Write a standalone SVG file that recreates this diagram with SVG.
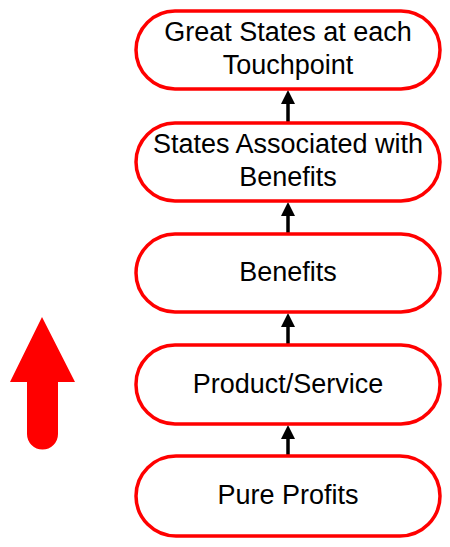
<svg xmlns="http://www.w3.org/2000/svg" width="450" height="547" viewBox="0 0 450 547">
<style>
.node rect{fill:#fff;stroke:#f00;stroke-width:3.5}
.node text{font-family:"Liberation Sans",Arial,sans-serif;font-size:27px;fill:#000;text-anchor:middle}
.conn line{stroke:#000;stroke-width:3.5}
</style>
<defs>
<marker id="ah" markerUnits="userSpaceOnUse" markerWidth="14" markerHeight="14" viewBox="0 0 14 14" refX="7" refY="0" orient="auto-start-reverse">
<path d="M0,14 L7,0 L14,14 Z" fill="#000"/>
</marker>
</defs>
<rect width="450" height="547" fill="#fff"/>
<path id="big-arrow" d="M42,317 L75,382 L58,382 L58,434 A15.5,15.5 0 0 1 27,434 L27,382 L10,382 Z" fill="#f00"/>
<g id="connectors" class="conn">
<line x1="288" y1="123" x2="288" y2="104"/>
<path d="M281,104 L288,90 L295,104 Z" fill="#000"/>
<line x1="288" y1="234" x2="288" y2="216"/>
<path d="M281,216 L288,202 L295,216 Z" fill="#000"/>
<line x1="288" y1="345" x2="288" y2="327"/>
<path d="M281,327 L288,313 L295,327 Z" fill="#000"/>
<line x1="288" y1="456" x2="288" y2="439"/>
<path d="M281,439 L288,425 L295,439 Z" fill="#000"/>
</g>
<g id="n1" class="node">
<rect x="136" y="11" width="304" height="78" rx="39"/>
<text x="288" y="41">Great States at each</text>
<text x="288" y="74">Touchpoint</text>
</g>
<g id="n2" class="node">
<rect x="136" y="123" width="304" height="78" rx="39"/>
<text x="288" y="153">States Associated with</text>
<text x="288" y="186">Benefits</text>
</g>
<g id="n3" class="node">
<rect x="136" y="234" width="304" height="78" rx="39"/>
<text x="288" y="281">Benefits</text>
</g>
<g id="n4" class="node">
<rect x="136" y="345" width="304" height="79" rx="39"/>
<text x="288" y="393">Product/Service</text>
</g>
<g id="n5" class="node">
<rect x="136" y="456" width="304" height="80" rx="40"/>
<text x="288" y="504">Pure Profits</text>
</g>
</svg>
